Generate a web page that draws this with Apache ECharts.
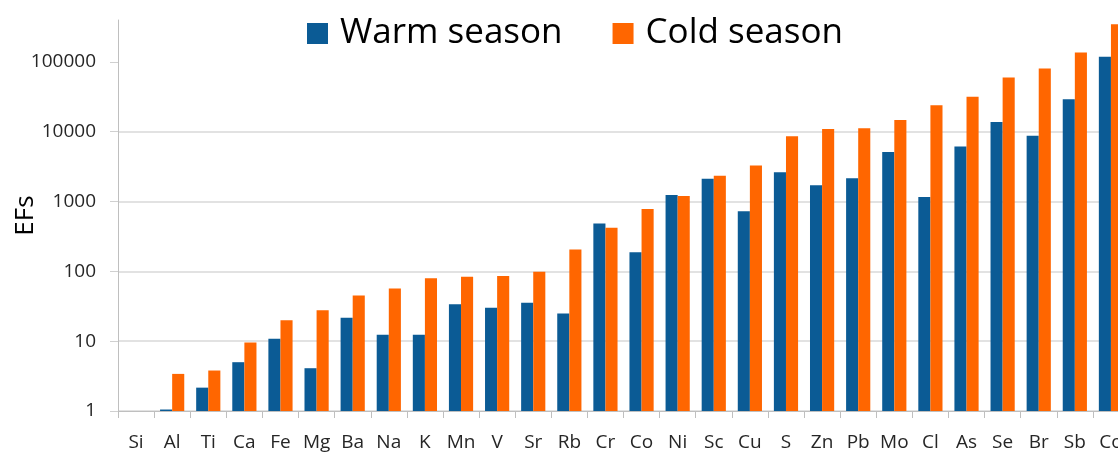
<!DOCTYPE html>
<html>
<head>
<meta charset="utf-8">
<script src="https://cdn.jsdelivr.net/npm/echarts@6/dist/echarts.min.js"></script>
<style>
html,body{margin:0;padding:0;background:#fff;}
#chart{width:1118px;height:452px;}
</style>
</head>
<body>
<div id="chart"></div>
<script>
var categories = ['Si','Al','Ti','Ca','Fe','Mg','Ba','Na','K','Mn','V','Sr','Rb','Cr','Co','Ni','Sc','Cu','S','Zn','Pb','Mo','Cl','As','Se','Br','Sb','Co'];
var warmSeason = [1,1.05,2.16,5.0,10.8,4.1,21.7,12.4,12.4,33.8,30.2,35.6,25,483,188,1244,2128,726,2630,1710,2157,5140,1164,6120,13810,8790,29200,118000];
var coldSeason = [1,3.4,3.8,9.6,20,27.7,45,57,79.6,84,86,99,205,423,783,1203,2350,3270,8620,10970,11220,14750,23970,31550,59600,80200,136500,347000];
var yTicks = [1,10,100,1000,10000,100000];

var chart = echarts.init(document.getElementById('chart'), null, {renderer:'canvas'});
var font = '"Open Sans", "DejaVu Sans", sans-serif';
chart.setOption({
  animation:false,
  textStyle:{fontFamily:font},
  legend:{
    left:302, top:11,
    itemWidth:21, itemHeight:21, itemGap:50,
    icon:'rect',
    textStyle:{fontSize:35, color:'#000', fontFamily:font, padding:[0,0,0,7]},
    data:['Warm season','Cold season']
  },
  grid:{left:118, right:-11, top:20, bottom:41, containLabel:false, outerBoundsMode:'none'},
  xAxis:{
    type:'category',
    data:categories,
    axisLine:{lineStyle:{color:'#bfbfbf', width:1}},
    axisTick:{show:true, length:7, lineStyle:{color:'#bfbfbf'}},
    axisLabel:{fontSize:19, color:'#262626', margin:22, interval:0, fontFamily:font}
  },
  yAxis:{
    type:'log',
    min:1,
    max:398107,
    logBase:10,
    name:'EFs',
    nameLocation:'middle',
    nameGap:79,
    nameRotate:90,
    nameMoveOverlap:false,
    nameTextStyle:{fontSize:26, color:'#000', fontFamily:font},
    axisLine:{show:true, lineStyle:{color:'#bfbfbf'}},
    axisTick:{show:true, length:8, lineStyle:{color:'#d0d0d0'}, customValues:yTicks},
    axisLabel:{fontSize:19, color:'#262626', margin:22, fontFamily:font, customValues:yTicks,
      formatter:function(v){return String(Math.round(v));}},
    splitLine:{show:true, showMaxLine:false, lineStyle:{color:'#d9d9d9', width:1.5}}
  },
  series:[
    {name:'Warm season', type:'bar', data:warmSeason, itemStyle:{color:'#0b5b95'}, barGap:'0%', barCategoryGap:'33%'},
    {name:'Cold season', type:'bar', data:coldSeason, itemStyle:{color:'#ff6600'}, barGap:'0%', barCategoryGap:'33%'}
  ]
});
</script>
</body>
</html>
